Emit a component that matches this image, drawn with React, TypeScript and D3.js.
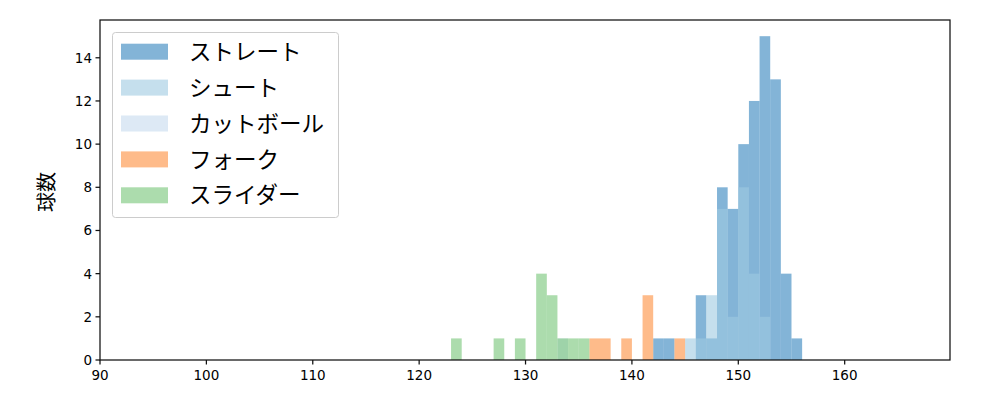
import React from "react";
import * as d3 from "d3";

const seriesNames = ["ストレート", "シュート", "カットボール", "フォーク", "スライダー"];
const seriesColors = ["#3182bd", "#9ecae1", "#c6dbef", "#fd8d3c", "#74c476"];

// bins: [start value, count], each bin width 1 km/h
const straight: [number, number][] = [
  [142, 1], [143, 1], [146, 3], [147, 1], [148, 8], [149, 7], [150, 10],
  [151, 12], [152, 15], [153, 13], [154, 4], [155, 1],
];
const shoot: [number, number][] = [
  [145, 1], [146, 1], [147, 3], [148, 7], [149, 2], [150, 8], [151, 4], [152, 2],
];
const cutter: [number, number][] = [[133, 1]];
const fork: [number, number][] = [[136, 1], [137, 1], [139, 1], [141, 3], [144, 1]];
const slider: [number, number][] = [
  [123, 1], [127, 1], [129, 1], [131, 4], [132, 3], [133, 1], [134, 1], [135, 1],
];
const allSeries = [straight, shoot, cutter, fork, slider];

const xTicks = [90, 100, 110, 120, 130, 140, 150, 160];
const yTicks = [0, 2, 4, 6, 8, 10, 12, 14];

const FONT = "'Noto Sans CJK JP', 'Noto Sans', sans-serif";
const TICKFONT = "'DejaVu Sans', sans-serif";

export default function App() {
  const W = 1000, H = 400;
  const left = 100, right = 950, top = 20, bottom = 360;
  const x = d3.scaleLinear().domain([90, 169.9]).range([left, right]);
  const y = d3.scaleLinear().domain([0, 15.75]).range([bottom, top]);
  const axisColor = "#111";

  return (
    <svg width={W} height={H} style={{ position: "absolute", left: 0, top: 0 }}>
      <rect x={0} y={0} width={W} height={H} fill="#fff" />
      {allSeries.map((s, i) => (
        <g key={i}>
          {s.map(([v, c], j) => (
            <rect
              key={j}
              x={x(v)}
              y={y(c)}
              width={x(v + 1) - x(v)}
              height={y(0) - y(c)}
              fill={seriesColors[i]}
              fillOpacity={0.6}
            />
          ))}
        </g>
      ))}
      {/* frame */}
      <rect x={left} y={top} width={right - left} height={bottom - top} fill="none" stroke={axisColor} strokeWidth={1.25} />
      {xTicks.map((t) => (
        <g key={t}>
          <line x1={x(t)} x2={x(t)} y1={bottom} y2={bottom + 4.5} stroke={axisColor} strokeWidth={1.25} />
          <text x={x(t)} y={bottom + 20} textAnchor="middle" fontSize={13.5} fontFamily={TICKFONT} fill="#000">{t}</text>
        </g>
      ))}
      {yTicks.map((t) => (
        <g key={t}>
          <line x1={left - 4.5} x2={left} y1={y(t)} y2={y(t)} stroke={axisColor} strokeWidth={1.25} />
          <text x={left - 8} y={y(t)} dy="0.36em" textAnchor="end" fontSize={13.5} fontFamily={TICKFONT} fill="#000">{t}</text>
        </g>
      ))}
      <text
        transform={`translate(47,${(top + bottom) / 2 + 2}) rotate(-90)`}
        textAnchor="middle"
        dy="0.36em"
        fontSize={20}
        fontFamily={FONT}
        fill="#000"
      >球数</text>
      {/* legend */}
      <rect x={112.5} y={32.5} width={226} height={185} rx={3} fill="#fff" fillOpacity={0.8} stroke="#ccc" strokeWidth={1} />
      {seriesNames.map((n, i) => {
        const cy = 51.7 + i * 35.9;
        return (
          <g key={n}>
            <rect x={121} y={cy - 8} width={47} height={16} fill={seriesColors[i]} fillOpacity={0.6} />
            <text x={189} y={cy} dy="0.36em" fontSize={22.5} fontFamily={FONT} fill="#000">{n}</text>
          </g>
        );
      })}
    </svg>
  );
}
